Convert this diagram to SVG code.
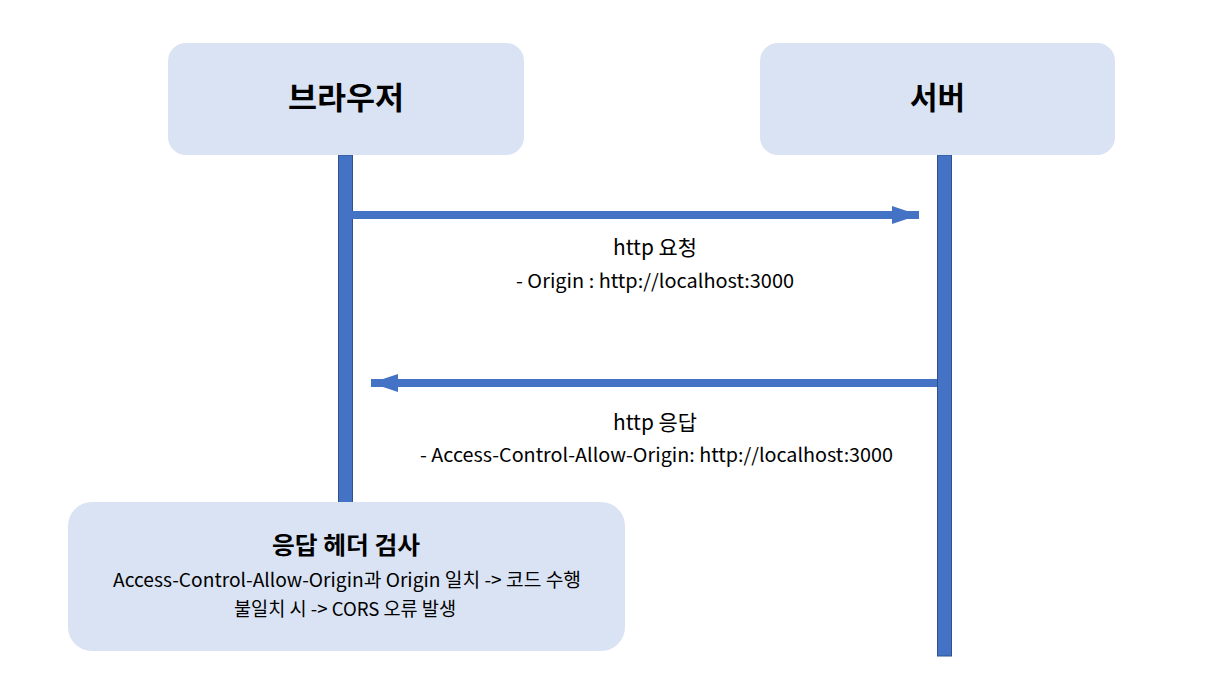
<svg xmlns="http://www.w3.org/2000/svg" width="1212" height="690" viewBox="0 0 1212 690">
<style>
.box{fill:#dae3f3;}
.life{fill:#4472c4;stroke:#2f528f;stroke-width:1;}
.arrow{stroke:#4472c4;stroke-width:8;fill:none;}
text{font-family:"Noto Sans CJK KR","Noto Sans",sans-serif;fill:#000;text-anchor:middle;}
.title{font-size:31px;font-weight:bold;}
.sub{font-size:24px;font-weight:bold;}
.lbl{font-size:21px;}
.sm{font-size:19px;}
</style>
<defs>
<marker id="ah" markerUnits="userSpaceOnUse" markerWidth="28" markerHeight="20" refX="27" refY="9" orient="auto">
<path d="M0,0 L27,9 L0,18 Z" fill="#4472c4"/>
</marker>
</defs>
<rect width="1212" height="690" fill="#fff"/>
<g id="lifelines">
<rect class="life" x="338.5" y="155" width="14" height="360"/>
<rect class="life" x="937.5" y="155" width="14" height="501"/>
</g>
<g id="browser">
<rect class="box" x="168" y="43" width="356" height="112" rx="18"/>
<text class="title" x="346" y="109" textLength="116" lengthAdjust="spacingAndGlyphs">브라우저</text>
</g>
<g id="server">
<rect class="box" x="760" y="43" width="355" height="112" rx="18"/>
<text class="title" x="937.5" y="109" textLength="55" lengthAdjust="spacingAndGlyphs">서버</text>
</g>
<g id="connectors">
<line class="arrow" x1="352" y1="215" x2="919" y2="215" marker-end="url(#ah)"/>
<line class="arrow" x1="937" y1="383" x2="371" y2="383" marker-end="url(#ah)"/>
</g>
<g id="labels">
<text class="lbl" x="655" y="255" textLength="84" lengthAdjust="spacingAndGlyphs">http 요청</text>
<text class="sm" x="655" y="288" textLength="278" lengthAdjust="spacingAndGlyphs">- Origin : http://localhost:3000</text>
<text class="lbl" x="655" y="430" textLength="84" lengthAdjust="spacingAndGlyphs">http 응답</text>
<text class="sm" x="656.5" y="462" textLength="473" lengthAdjust="spacingAndGlyphs">- Access-Control-Allow-Origin: http://localhost:3000</text>
</g>
<g id="check">
<rect class="box" x="68" y="502" width="557" height="149" rx="24"/>
<text class="sub" x="346" y="554" textLength="148" lengthAdjust="spacingAndGlyphs">응답 헤더 검사</text>
<text class="sm" x="347" y="587" textLength="468" lengthAdjust="spacingAndGlyphs">Access-Control-Allow-Origin과 Origin 일치 -&gt; 코드 수행</text>
<text class="sm" x="345" y="616" textLength="222" lengthAdjust="spacingAndGlyphs">불일치 시 -&gt; CORS 오류 발생</text>
</g>
</svg>
